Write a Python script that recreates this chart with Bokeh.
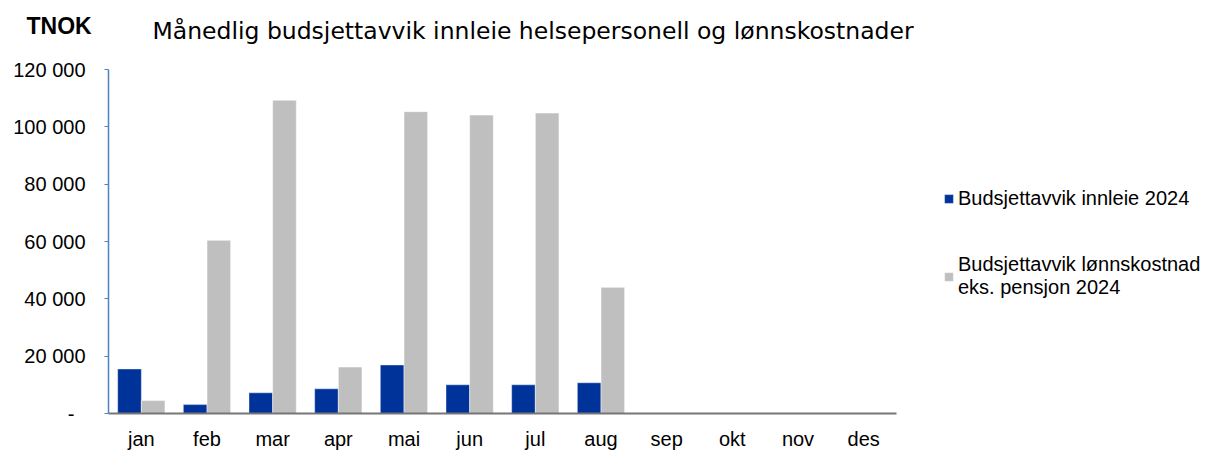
from bokeh.plotting import figure
from bokeh.models import (ColumnDataSource, Range1d, FixedTicker, Legend, LegendItem, Label)
from bokeh.transform import dodge
from bokeh.embed import file_html
from bokeh.resources import INLINE

months = ["jan", "feb", "mar", "apr", "mai", "jun", "jul", "aug", "sep", "okt", "nov", "des"]
innleie = [15500, 3100, 7200, 8600, 16900, 10000, 10000, 10700, None, None, None, None]
lonn = [4500, 60400, 109300, 16200, 105300, 104100, 104800, 44000, None, None, None, None]
y_ticks = [0, 20000, 40000, 60000, 80000, 100000, 120000]
y_labels = ["-\u00a0\u00a0", "20 000", "40 000", "60 000", "80 000", "100 000", "120 000"]
series_names = ["Budsjettavvik innleie 2024", "Budsjettavvik lønnskostnad\neks. pensjon 2024"]
title_text = "Månedlig budsjettavvik innleie helsepersonell og lønnskostnader"
unit_text = "TNOK"

nan = float("nan")
idx = list(range(len(months)))
src = ColumnDataSource(dict(
    i=idx,
    m=months,
    a=[nan if v is None else v for v in innleie],
    b=[nan if v is None else v for v in lonn],
))

FONT = "Liberation Sans"
W = 1220
HEAD = 58

# header with unit and title (separate root)
head = figure(width=W, height=HEAD, x_range=Range1d(0, W), y_range=Range1d(0, HEAD),
              output_backend="svg", toolbar_location=None, min_border=0)
head.axis.visible = False
head.grid.visible = False
head.outline_line_color = None
head.add_layout(Label(x=152, y=HEAD - 30, x_units="screen", y_units="screen", text=title_text,
                      text_font="DejaVu Sans", text_font_size="23.5px", text_color="black",
                      text_baseline="middle", text_align="left"))
head.add_layout(Label(x=26, y=HEAD - 25, x_units="screen", y_units="screen", text=unit_text,
                      text_font=FONT, text_font_size="23px", text_font_style="bold",
                      text_color="black", text_baseline="middle", text_align="left"))

# main chart: frame runs to the right edge so the legend can sit inside it
LEFT = 108
AXIS_PX = 788                      # pixel length of the 12 month slots
n = len(months)
px_per_unit = AXIS_PX / n
x_end = -0.5 + (W - LEFT) / px_per_unit

p = figure(x_range=Range1d(-0.5, x_end), y_range=Range1d(0, 120000),
           width=W, height=452 - HEAD, output_backend="svg", toolbar_location=None,
           min_border_left=LEFT, min_border_right=0, min_border_top=11, min_border_bottom=39)
p.outline_line_color = None
p.grid.visible = False
p.background_fill_color = "white"

r1 = p.vbar(x=dodge("i", -0.18), top="a", width=0.36, source=src,
            fill_color="#003399", line_color="white", line_alpha=0.35, line_width=1)
r2 = p.vbar(x=dodge("i", 0.18), top="b", width=0.36, source=src,
            fill_color="#BFBFBF", line_color="white", line_alpha=0.5, line_width=1)

ya = p.yaxis[0]
ya.ticker = FixedTicker(ticks=y_ticks)
ya.major_label_overrides = {t: l for t, l in zip(y_ticks, y_labels)}
ya.axis_line_color = "#4F81BD"
ya.axis_line_width = 1.5
ya.major_tick_line_color = "#4F81BD"
ya.major_tick_out = 4
ya.major_tick_in = 0
ya.minor_tick_line_color = None
ya.major_label_text_font = FONT
ya.major_label_text_font_size = "20px"
ya.major_label_text_color = "black"
ya.major_label_standoff = 19

xa = p.xaxis[0]
xa.ticker = FixedTicker(ticks=idx)
xa.major_label_overrides = {i: m for i, m in zip(idx, months)}
xa.bounds = (-0.5, n - 0.5)
xa.axis_line_color = "#767676"
xa.axis_line_width = 2
xa.major_tick_line_color = None
xa.minor_tick_line_color = None
xa.major_label_text_font = FONT
xa.major_label_text_font_size = "20px"
xa.major_label_text_color = "black"
xa.major_label_standoff = 8

legend = Legend(items=[LegendItem(label=series_names[0], renderers=[r1]),
                       LegendItem(label=series_names[1], renderers=[r2])],
                location=(835, 114))
legend.glyph_width = 11
legend.glyph_height = 11
legend.label_text_font = FONT
legend.label_text_font_size = "20px"
legend.label_text_color = "black"
legend.label_standoff = 4
legend.spacing = 43
legend.padding = 0
legend.margin = 0
legend.border_line_color = None
legend.background_fill_alpha = 0
p.add_layout(legend, "center")

open("out.html", "w").write(file_html([head, p], INLINE))
